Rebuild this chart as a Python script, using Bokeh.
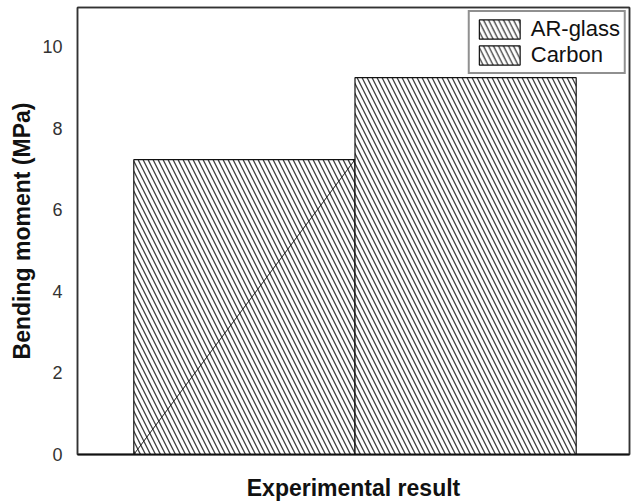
from bokeh.plotting import figure
from bokeh.models import Range1d, FixedTicker, Legend, LegendItem, ColumnDataSource, LinearAxis
from bokeh.embed import file_html
from bokeh.resources import INLINE

# ---- data ----
series = ["AR-glass", "Carbon"]
values = [7.23, 9.24]
positions = [-0.5, 0.5]
bar_width = 1.0
y_ticks = [0, 2, 4, 6, 8, 10]
x_label = "Experimental result"
y_label = "Bending moment (MPa)"

FONT = "Liberation Sans"
FRAME = "#333333"

p = figure(width=638, height=504, output_backend="svg", toolbar_location=None,
           x_range=Range1d(-1.2545, 1.241), y_range=Range1d(0, 10.96),
           min_border_left=77, min_border_right=9, min_border_top=7,
           min_border_bottom=50, background_fill_color="white",
           border_fill_color="white")

p.grid.visible = False
p.outline_line_color = FRAME
p.outline_line_width = 1.5

renderers = []
for name, x, v in zip(series, positions, values):
    src = ColumnDataSource(dict(x=[x], top=[v]))
    r = p.vbar(x="x", top="top", width=bar_width, source=src,
               fill_color="white", line_color="#111111", line_width=1.2,
               hatch_pattern="\\", hatch_scale=10, hatch_weight=1.3,
               hatch_color="#333333", hatch_alpha=0.95)
    renderers.append(r)

# extra diagonal stroke inside the AR-glass bar
seg_src = ColumnDataSource(dict(
    x0=[positions[0] - bar_width / 2], y0=[0],
    x1=[positions[0] + bar_width / 2], y1=[values[0]]))
p.segment(x0="x0", y0="y0", x1="x1", y1="y1", source=seg_src,
          line_color="#222222", line_width=1)

# x axis
xa = p.xaxis[0]
xa.ticker = FixedTicker(ticks=[])
xa.major_tick_line_color = None
xa.minor_tick_line_color = None
xa.major_label_standoff = 0
xa.axis_line_color = "#111111"
xa.axis_line_width = 2
xa.axis_label = x_label
xa.axis_label_text_font = FONT
xa.axis_label_text_font_style = "bold"
xa.axis_label_text_font_size = "23px"
xa.axis_label_text_color = "#111111"
xa.axis_label_standoff = 20

# y axis
ya = p.yaxis[0]
ya.ticker = FixedTicker(ticks=y_ticks)
ya.major_tick_out = 0
ya.major_tick_in = 0
ya.minor_tick_line_color = None
ya.axis_line_color = FRAME
ya.axis_line_width = 1.5
ya.major_label_standoff = 15
ya.major_label_text_font = FONT
ya.major_label_text_font_size = "18px"
ya.major_label_text_color = "#333333"
ya.axis_label = y_label
ya.axis_label_text_font = FONT
ya.axis_label_text_font_style = "bold"
ya.axis_label_text_font_size = "23px"
ya.axis_label_text_color = "#111111"
ya.axis_label_standoff = 4

# plain frame lines on top and right
for side in ("above", "right"):
    ax = LinearAxis(ticker=FixedTicker(ticks=[]), major_tick_line_color=None,
                    minor_tick_line_color=None, major_label_standoff=0,
                    axis_line_color=FRAME, axis_line_width=1.5)
    p.add_layout(ax, side)

legend = Legend(items=[LegendItem(label=s, renderers=[r]) for s, r in zip(series, renderers)],
                location="top_right", margin=3, padding=4, spacing=0,
                glyph_width=51, glyph_height=24, label_height=24,
                label_standoff=6, label_text_font=FONT,
                label_text_font_size="22px", label_text_color="#111111",
                border_line_color="#222222", border_line_width=2,
                background_fill_color="white", background_fill_alpha=1)
p.add_layout(legend)

open("out.html", "w").write(file_html(p, INLINE))
